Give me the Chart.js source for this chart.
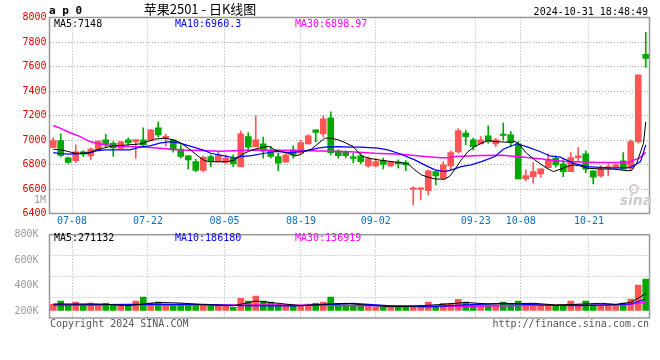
<!DOCTYPE html>
<html>
<head>
<meta charset="utf-8">
<script src="https://cdn.jsdelivr.net/npm/chart.js@4.4.1/dist/chart.umd.min.js"></script>
<style>
  html, body { margin: 0; padding: 0; background: #fff; }
  #wrap { position: relative; width: 660px; height: 360px; }
  canvas { position: absolute; left: 0; top: 0; }
</style>
</head>
<body>
<div id="wrap">
  <canvas id="vol" width="660" height="360"></canvas>
  <canvas id="kline" width="660" height="360"></canvas>
</div>
<script>
// daily candles 2024-07-03 .. 2024-10-31 (index 0..79)
const open  = [6940,6995,6854,6832,6903,6870,6919,7001,6973,6932, 7001,6985,7001,6995,7099,7013,7001,6925,6870,6824,
               6752,6865,6824,6816,6852,6783,7028,6946,6969,6911, 6865,6819,6919,6892,6969,7083,7050,7181,6911,6900,
               6856,6870,6789,6789,6830,6789,6819,6816,6597,6597, 6587,6742,6688,6789,6903,7056,7001,6969,7034,6969,
               7045,7042,6969,6682,6701,6723,6775,6852,6805,6742, 6856,6887,6748,6707,6770,6775,6830,6770,6987,7699];
const high  = [7018,7050,6860,6960,6914,6936,6995,7046,6987,6989, 7018,7005,7099,7087,7148,7048,7005,6960,6874,6842,
               6870,6879,6903,6879,6879,7072,7061,7198,7023,6946, 6892,6892,6952,6995,7045,7085,7198,7230,6919,6911,
               6892,6892,6865,6850,6852,6825,6838,6832,6620,6610, 6756,6748,6824,6911,7094,7077,7015,7028,7116,7015,
               7138,7069,6987,6756,6816,6764,6887,6870,6838,6897, 6938,6911,6748,6791,6805,6805,6897,7001,7533,7879];
const low   = [6938,6862,6809,6815,6865,6838,6919,6946,6865,6928, 6960,6850,6944,6993,7026,6952,6900,6852,6764,6742,
               6740,6783,6824,6805,6783,6783,6914,6946,6852,6852, 6750,6819,6852,6892,6969,6987,7028,6879,6852,6856,
               6815,6805,6778,6780,6764,6780,6770,6750,6470,6510, 6551,6633,6674,6756,6892,6960,6919,6969,6974,6946,
               7001,6946,6682,6666,6647,6696,6775,6778,6701,6742, 6824,6734,6641,6696,6707,6775,6762,6756,6974,7593];
const close = [6995,6874,6816,6903,6884,6925,6991,6964,6936,6985, 6977,7003,6960,7083,7042,7030,6919,6865,6838,6752,
               6858,6824,6879,6852,6805,7050,6942,7001,6909,6865, 6811,6879,6879,6979,7034,7061,7173,6897,6873,6873,
               6850,6824,6846,6824,6800,6819,6805,6797,6605,6605, 6748,6707,6797,6897,7077,7028,6946,7001,6987,7001,
               7037,6979,6682,6709,6742,6764,6843,6797,6742,6856, 6870,6762,6696,6764,6783,6797,6762,6987,7533,7666];
const volume = [100000,153000,89000,137000,89000,118000,89000,116000,95000,89000,
                73000,153000,218000,118000,137000,102000,89000,108000,89000,89000,
                94000,73000,81000,81000,52000,198000,153000,234000,153000,137000,
                105000,89000,73000,81000,105000,116000,137000,218000,105000,97000,
                81000,73000,65000,56000,65000,65000,73000,73000,81000,81000,
                137000,73000,116000,116000,182000,137000,104000,89000,89000,89000,
                137000,116000,153000,97000,116000,97000,97000,73000,73000,153000,
                105000,153000,97000,97000,97000,97000,121000,185000,411000,508000];

// moving-average lines (position in candle index, value)
const ma5At  = [0,1.1,2,2.9,4.6,5.5,6.6,8,10,11.7,12.6,13.5,14.9,16,16.9,18,19.1,20,20.6,22,23.3,24.2,25.1,26,26.9,28,28.9,29.5,30.4,31.3,32.2,32.9,33.5,34.4,35.3,36.2,37.1,38,38.9,40,41.1,42,43.3,45.5,46.4,47.3,48.2,49.1,50,50.9,52.2,52.9,53.5,54.4,55.3,56.2,57.1,58,58.9,60.5,61.6,62.2,63.1,64.5,65.8,66.7,67.6,68.5,69.3,70.2,71.1,72.9,74.7,76.5,77.1,77.8,78.7,79];
const ma5    = [6925,6919,6906,6892,6892,6914,6933,6952,6960,6969,6987,7007,7015,7001,6979,6933,6879,6838,6824,6821,6824,6838,6879,6906,6925,6942,6946,6919,6906,6892,6870,6879,6906,6925,6969,7015,7015,7001,6979,6946,6870,6852,6838,6821,6816,6805,6756,6715,6696,6682,6680,6707,6756,6838,6906,6946,6974,6996,6987,6982,6987,6960,6892,6824,6770,6742,6762,6783,6797,6789,6770,6764,6762,6750,6750,6811,6974,7148];
const ma10At = [0,0.9,2.2,3.6,4.9,6,6.9,10.2,11.6,12.9,14.2,15.6,16.9,18.7,20.3,21,23.3,24.2,25,26.4,28.2,29.6,31.7,33.9,35.3,36.2,38,39.7,41,43.3,44.6,46,48.2,49.5,50.9,52.2,53.1,54.4,55.7,57.1,58.9,60,61.8,63.1,64.9,66.2,67.6,69.3,71.1,74.7,76.9,78.3,79];
const ma10   = [6897,6889,6884,6889,6897,6914,6919,6919,6942,6952,6974,6987,6974,6942,6911,6892,6865,6852,6865,6873,6892,6906,6897,6914,6933,6942,6946,6942,6942,6933,6919,6892,6838,6797,6756,6742,6756,6783,6797,6824,6865,6925,6969,6946,6906,6870,6860,6811,6783,6770,6775,6824,6960];
const ma30At = [0,0.9,2.2,3.6,4.9,6,7.1,8.5,9.8,11.6,14.2,16.9,19.6,22.2,24.9,27.1,32.9,39.6,42.9,46.4,49.6,51.7,52.6,53.6,56.9,60,61.6,63.6,68.2,72.9,76.6,78.2,79];
const ma30   = [7118,7097,7061,7028,6987,6969,6960,6952,6946,6944,6933,6919,6914,6909,6914,6919,6914,6905,6892,6884,6865,6856,6856,6865,6873,6876,6865,6856,6824,6816,6816,6854,6899];

const volMa5At  = [0,6,10,14,17,20,24,27,30,33,36,39,42,45,48,52,55,58,61,64,67,70,73,75,77,78,79];
const volMa5    = [105000,105000,80000,130000,120000,95000,75000,153000,116000,78000,100000,116000,85000,62000,68000,100000,130000,105000,110000,116000,90000,100000,116000,100000,130000,200000,271132];
const volMa10At = [0,10,20,25,32,36,40,45,50,55,60,63,66,70,74,77,79];
const volMa10   = [89000,100000,100000,80000,73000,95000,116000,73000,60000,90000,116000,100000,85000,80000,92000,105000,186180];
const volMa30At = [0,30,40,55,65,75,77,79];
const volMa30   = [89000,89000,80000,70000,85000,90000,100000,136919];

// axis labels
const tickDates = ['07-08','07-22','08-05','08-19','09-02','09-23','10-08','10-21'];
const tickPos   = [2.5, 12.63, 22.83, 33.03, 43.0, 56.33, 62.33, 71.43];
const priceTicks = [6400, 6600, 6800, 7000, 7200, 7400, 7600, 7800, 8000];
const volTicks   = [200000, 400000, 600000, 800000];

const UP = '#ff5555', DOWN = '#00a800';
const MONO = '"DejaVu Sans Mono", monospace';
Chart.defaults.font.family = MONO;
Chart.defaults.font.size = 10;

const idx = close.map((_, i) => i);
const candleColor = idx.map(i => close[i] >= open[i] ? UP : DOWN);
const pts = (at, vals) => at.map((x, i) => ({ x: x, y: vals[i] }));

function txt(ctx, s, x, y, color, font, align) {
    ctx.fillStyle = color;
    ctx.font = font;
    ctx.textAlign = align || 'left';
    ctx.textBaseline = 'middle';
    ctx.fillText(s, x, y);
}

const framePlugin = {
    id: 'frame',
    afterDraw(chart) {
        const { ctx, chartArea: a } = chart;
        ctx.save();
        ctx.strokeStyle = '#999';
        ctx.lineWidth = 1.5;
        ctx.strokeRect(a.left, a.top, a.right - a.left, a.bottom - a.top);
        ctx.restore();
    }
};

const xScale = (showLabels) => ({
    type: 'linear',
    min: -0.5,
    max: 79.5,
    offset: false,
    afterBuildTicks: s => { s.ticks = tickPos.map(v => ({ value: v })); },
    afterFit: s => { s.height = showLabels ? 14 : 0; },
    ticks: {
        display: showLabels,
        autoSkip: false,
        maxRotation: 0,
        padding: 2,
        color: '#0a6fc2',
        font: { family: MONO, size: 10 },
        callback: (v, i) => tickDates[i]
    },
    grid: { offset: false, color: '#aaa', drawTicks: false },
    border: { display: false, dash: [1, 2] }
});

// Price panel
const klineText = {
    id: 'klineText',
    afterDraw(chart) {
        const ctx = chart.ctx;
        ctx.save();
        txt(ctx, 'a p 0', 49, 11, '#000', 'bold 11px ' + MONO);
        txt(ctx, '苹果2501 - 日K线图', 200, 9.5, '#000', '13px "Noto Sans CJK SC"', 'center');
        txt(ctx, '2024-10-31 18:48:49', 648, 12, '#000', '10px ' + MONO, 'right');
        txt(ctx, 'MA5:7148', 54, 24, '#000', '10px ' + MONO);
        txt(ctx, 'MA10:6960.3', 175, 24, '#0000ff', '10px ' + MONO);
        txt(ctx, 'MA30:6898.97', 295, 24, '#ff00ff', '10px ' + MONO);
        txt(ctx, '1M', 46, 200, '#999', '10px ' + MONO, 'right');
        txt(ctx, 'Copyright 2024 SINA.COM', 50, 324, '#555', '10px ' + MONO);
        txt(ctx, 'http://finance.sina.com.cn', 649, 324, '#555', '10px ' + MONO, 'right');
        // sina watermark
        ctx.strokeStyle = '#d8c8c8';
        ctx.lineWidth = 2;
        ctx.beginPath();
        ctx.arc(634, 189, 4, 0, Math.PI * 2);
        ctx.stroke();
        txt(ctx, 'sina', 636, 201, '#cccccc', 'italic bold 14px "DejaVu Sans"', 'center');
        ctx.restore();
    }
};

new Chart(document.getElementById('kline'), {
    type: 'bar',
    data: {
        datasets: [
            { type: 'line', label: 'MA5', data: pts(ma5At, ma5), borderColor: '#000', borderWidth: 1, pointRadius: 0, tension: 0, order: 0 },
            { type: 'line', label: 'MA10', data: pts(ma10At, ma10), borderColor: '#0000ff', borderWidth: 1.2, pointRadius: 0, tension: 0, order: 0 },
            { type: 'line', label: 'MA30', data: pts(ma30At, ma30), borderColor: '#ff00ff', borderWidth: 1.5, pointRadius: 0, tension: 0, order: 0 },
            { label: 'body', data: idx.map(i => ({ x: i, y: [open[i], close[i]] })), backgroundColor: candleColor,
              barThickness: 6, minBarLength: 1.5, grouped: false, order: 1 },
            { label: 'wick', data: idx.map(i => ({ x: i, y: [low[i], high[i]] })), backgroundColor: candleColor,
              barThickness: 1, grouped: false, order: 2 }
        ]
    },
    options: {
        responsive: false,
        animation: false,
        layout: { padding: { left: 0, top: 17.5, right: 10.5, bottom: 132.5 } },
        plugins: { legend: { display: false }, tooltip: { enabled: false } },
        scales: {
            x: xScale(true),
            y: {
                min: 6400,
                max: 8000,
                afterBuildTicks: s => { s.ticks = priceTicks.map(v => ({ value: v })); },
                afterFit: s => { s.width = 49.5; },
                ticks: { color: '#e60000', padding: 3, font: { family: MONO, size: 10 }, callback: v => String(v) },
                grid: { color: '#aaa', drawTicks: false },
                border: { display: false, dash: [1, 2] }
            }
        }
    },
    plugins: [framePlugin, klineText]
});

// Volume panel
const volText = {
    id: 'volText',
    afterDraw(chart) {
        const ctx = chart.ctx;
        ctx.save();
        txt(ctx, 'MA5:271132', 54, 238.5, '#000', '10px ' + MONO);
        txt(ctx, 'MA10:186180', 175, 238.5, '#0000ff', '10px ' + MONO);
        txt(ctx, 'MA30:136919', 295, 238.5, '#ff00ff', '10px ' + MONO);
        ctx.restore();
    }
};

new Chart(document.getElementById('vol'), {
    type: 'bar',
    data: {
        datasets: [
            { type: 'line', label: 'VMA5', data: pts(volMa5At, volMa5), yAxisID: 'yv', borderColor: '#000', borderWidth: 1, pointRadius: 0, order: 0 },
            { type: 'line', label: 'VMA10', data: pts(volMa10At, volMa10), yAxisID: 'yv', borderColor: '#0000ff', borderWidth: 1.2, pointRadius: 0, order: 0 },
            { type: 'line', label: 'VMA30', data: pts(volMa30At, volMa30), yAxisID: 'yv', borderColor: '#ff00ff', borderWidth: 1.5, pointRadius: 0, order: 0 },
            { label: 'volume', data: idx.map(i => ({ x: i, y: volume[i] })), yAxisID: 'yv', backgroundColor: candleColor,
              barThickness: 6, grouped: false, order: 1 }
        ]
    },
    options: {
        responsive: false,
        animation: false,
        layout: { padding: { left: 0, top: 234.7, right: 10.5, bottom: 42 } },
        plugins: { legend: { display: false }, tooltip: { enabled: false } },
        scales: {
            x: xScale(false),
            yv: { display: false, position: 'left', min: -121000, max: 1222600 },
            yl: {
                position: 'left',
                min: 145000,
                max: 800000,
                afterBuildTicks: s => { s.ticks = volTicks.map(v => ({ value: v })); },
                afterFit: s => { s.width = 49.5; },
                ticks: { color: '#999', padding: 3, font: { family: MONO, size: 10 }, callback: v => (v / 1000) + 'K' },
                grid: { display: false },
                border: { display: false }
            },
            yg: {
                position: 'right',
                min: 0,
                max: 4,
                afterBuildTicks: s => { s.ticks = [1, 2, 3].map(v => ({ value: v })); },
                afterFit: s => { s.width = 0; },
                ticks: { display: false },
                grid: { color: '#aaa', drawTicks: false },
                border: { display: false, dash: [1, 2] }
            }
        }
    },
    plugins: [framePlugin, volText]
});
</script>
</body>
</html>
